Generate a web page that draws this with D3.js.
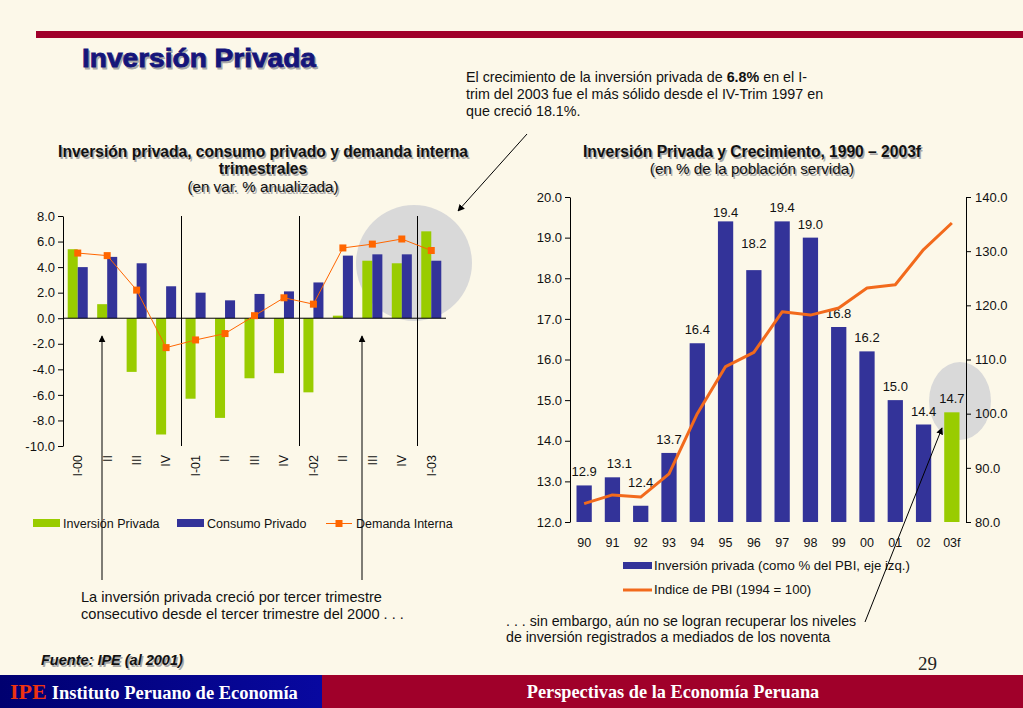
<!DOCTYPE html>
<html>
<head>
<meta charset="utf-8">
<script src="https://cdn.jsdelivr.net/npm/d3@7"></script>
<style>
  body { margin: 0; background: #fcf8e9; }
  text { font-family: "Liberation Sans", Arial, sans-serif; }
</style>
</head>
<body>
<script>
// Slide: Inversión Privada (IPE)

var quarters = ['I-00', 'II', 'III', 'IV', 'I-01', 'II ', 'III ', 'IV ', 'I-02', 'II  ', 'III  ', 'IV  ', 'I-03'];
var invPrivada = [5.4, 1.1, -4.2, -9.1, -6.3, -7.8, -4.7, -4.3, -5.8, 0.2, 4.5, 4.3, 6.8];
var consumoPrivado = [4.0, 4.8, 4.3, 2.5, 2.0, 1.4, 1.9, 2.1, 2.8, 4.9, 5.0, 5.0, 4.5];
var demandaInterna = [5.1, 4.9, 2.2, -2.3, -1.7, -1.2, 0.2, 1.6, 1.1, 5.5, 5.8, 6.2, 5.3];
var leftTicks = [-10, -8, -6, -4, -2, 0, 2, 4, 6, 8];

var years = ['90', '91', '92', '93', '94', '95', '96', '97', '98', '99', '00', '01', '02', '03f'];
var invPBI = [12.9, 13.1, 12.4, 13.7, 16.4, 19.4, 18.2, 19.4, 19.0, 16.8, 16.2, 15.0, 14.4, 14.7];
var indicePBI = [83.4, 85.0, 84.6, 88.9, 100.0, 108.7, 111.3, 118.8, 118.2, 119.5, 123.2, 123.8, 130.3, 135.2];
var rightTicksL = [12, 13, 14, 15, 16, 17, 18, 19, 20];
var rightTicksR = [80, 90, 100, 110, 120, 130, 140];

var GREEN = '#99cc00', BLUE = '#333399', ORANGE = '#ff6600';

var width = 1023, height = 708;
var svg = d3.select('body').append('svg')
    .attr('width', width)
    .attr('height', height);

svg.append('rect').attr('width', width).attr('height', height).attr('fill', '#fcf8e9');

var defs = svg.append('defs');
defs.append('marker')
    .attr('id', 'arrow')
    .attr('viewBox', '0 0 10 10')
    .attr('refX', 9).attr('refY', 5)
    .attr('markerWidth', 7).attr('markerHeight', 7)
    .attr('markerUnits', 'userSpaceOnUse')
    .attr('orient', 'auto')
    .append('path').attr('d', 'M0,0 L10,5 L0,10 z').attr('fill', '#000');

var grad = defs.append('linearGradient').attr('id', 'navy');
grad.append('stop').attr('offset', '0%').attr('stop-color', '#000070');
grad.append('stop').attr('offset', '100%').attr('stop-color', '#0808a0');

// plain hyphen instead of d3's minus sign
var fmt = function (d) { return d3.format('.1f')(d).replace('\u2212', '-'); };

// header
svg.append('rect').attr('x', 36).attr('y', 31).attr('width', width - 36).attr('height', 7).attr('fill', '#a0002a');

function shadowText(x, y, str, size, weight, fill, anchor, style, len) {
    var g = svg.append('g');
    [[1.5, 1.5, '#a8a8a8'], [0, 0, fill]].forEach(function (o) {
        var t = g.append('text')
            .attr('x', x + o[0]).attr('y', y + o[1])
            .attr('text-anchor', anchor || 'start')
            .style('font-size', size + 'px')
            .style('font-weight', weight)
            .style('font-style', style || 'normal')
            .attr('fill', o[2])
            .text(str);
        if (len) t.attr('textLength', len).attr('lengthAdjust', 'spacingAndGlyphs')
            .attr('stroke', o[2]).attr('stroke-width', 0.8);
    });
    return g;
}

shadowText(82, 67, 'Inversión Privada', 25, 'bold', '#15157a', 'start', 'normal', 234);
shadowText(263, 157, 'Inversión privada, consumo privado y demanda interna', 15.6, 'bold', '#111', 'middle');
shadowText(263, 174, 'trimestrales', 15.6, 'bold', '#111', 'middle');
shadowText(263, 192, '(en var. % anualizada)', 15.2, 'normal', '#111', 'middle');
shadowText(752, 157, 'Inversión Privada y Crecimiento, 1990 – 2003f', 15.6, 'bold', '#111', 'middle');
shadowText(752, 174, '(en % de la población servida)', 15.2, 'normal', '#111', 'middle');

var note = svg.append('text').attr('x', 466).attr('y', 82).style('font-size', '14.3px').attr('fill', '#111');
note.append('tspan').text('El crecimiento de la inversión privada de ');
note.append('tspan').style('font-weight', 'bold').text('6.8%');
note.append('tspan').text(' en el I-');
svg.append('text').attr('x', 466).attr('y', 99).style('font-size', '14.3px').attr('fill', '#111')
    .text('trim del 2003 fue el más sólido desde el IV-Trim 1997 en');
svg.append('text').attr('x', 466).attr('y', 116).style('font-size', '14.3px').attr('fill', '#111')
    .text('que creció 18.1%.');

// ---------- left chart ----------
var xL = d3.scaleBand().domain(quarters).range([63, 446]).paddingInner(0.32).paddingOuter(0.16);
var xSub = d3.scaleBand().domain(['inv', 'con']).range([0, xL.bandwidth()]);
var yL = d3.scaleLinear().domain([-10, 8]).range([446, 216]);

svg.append('circle').attr('cx', 414).attr('cy', 263).attr('r', 58).attr('fill', '#d9d9d9');

// separators between years
['I-01', 'I-02', 'I-03'].forEach(function (q) {
    var sx = Math.round(xL(q) - xL.step() * xL.paddingInner() / 2) + 0.5;
    svg.append('line').attr('x1', sx).attr('x2', sx).attr('y1', yL(8)).attr('y2', yL(-10))
        .attr('stroke', '#000').attr('stroke-width', 1);
});

var left = svg.append('g');
left.selectAll('.inv').data(invPrivada).enter().append('rect')
    .attr('x', function (d, i) { return xL(quarters[i]) + xSub('inv'); })
    .attr('y', function (d) { return yL(Math.max(0, d)); })
    .attr('width', xSub.bandwidth())
    .attr('height', function (d) { return Math.abs(yL(d) - yL(0)); })
    .attr('fill', GREEN);
left.selectAll('.con').data(consumoPrivado).enter().append('rect')
    .attr('x', function (d, i) { return xL(quarters[i]) + xSub('con'); })
    .attr('y', function (d) { return yL(Math.max(0, d)); })
    .attr('width', xSub.bandwidth())
    .attr('height', function (d) { return Math.abs(yL(d) - yL(0)); })
    .attr('fill', BLUE);

var yAxisL = svg.append('g').attr('transform', 'translate(63,0)')
    .call(d3.axisLeft(yL).tickValues(leftTicks).tickFormat(fmt).tickSize(5).tickSizeOuter(0));
yAxisL.selectAll('text').style('font-size', '13px').attr('fill', '#111').attr('x', -8);
yAxisL.selectAll('line, path').attr('stroke', '#000');

svg.append('line').attr('x1', 63).attr('x2', 446).attr('y1', yL(0)).attr('y2', yL(0)).attr('stroke', '#000');

var cx = function (i) { return xL(quarters[i]) + xL.bandwidth() / 2; };
var lineL = d3.line().x(function (d, i) { return cx(i); }).y(function (d) { return yL(d); });
svg.append('path').datum(demandaInterna).attr('d', lineL)
    .attr('fill', 'none').attr('stroke', ORANGE).attr('stroke-width', 1);
svg.selectAll('.mk').data(demandaInterna).enter().append('rect')
    .attr('x', function (d, i) { return cx(i) - 3.5; })
    .attr('y', function (d) { return yL(d) - 3.5; })
    .attr('width', 7).attr('height', 7).attr('fill', ORANGE);

svg.selectAll('.ql').data(quarters).enter().append('text')
    .attr('transform', function (d, i) { return 'translate(' + cx(i) + ',455) rotate(-90)'; })
    .attr('text-anchor', 'end').attr('dy', '0.35em')
    .style('font-size', '12.5px').attr('fill', '#111')
    .text(function (d) { return d.trim(); });

// left legend
var legL = svg.append('g').style('font-size', '12.5px');
legL.append('rect').attr('x', 33).attr('y', 519).attr('width', 27).attr('height', 8).attr('fill', GREEN);
legL.append('text').attr('x', 63).attr('y', 528).attr('fill', '#111').text('Inversión Privada');
legL.append('rect').attr('x', 177).attr('y', 519).attr('width', 27).attr('height', 8).attr('fill', BLUE);
legL.append('text').attr('x', 207).attr('y', 528).attr('fill', '#111').text('Consumo Privado');
legL.append('line').attr('x1', 326).attr('x2', 352).attr('y1', 523.5).attr('y2', 523.5).attr('stroke', ORANGE);
legL.append('rect').attr('x', 335.5).attr('y', 520).attr('width', 7).attr('height', 7).attr('fill', ORANGE);
legL.append('text').attr('x', 356).attr('y', 528).attr('fill', '#111').text('Demanda Interna');

// arrows left
[[102, 580, 102, 336], [362, 580, 362, 336], [527, 134, 458, 211]].forEach(function (a) {
    svg.append('line').attr('x1', a[0]).attr('y1', a[1]).attr('x2', a[2]).attr('y2', a[3])
        .attr('stroke', '#000').attr('stroke-width', 1).attr('marker-end', 'url(#arrow)');
});

// ---------- right chart ----------
var xR = d3.scaleBand().domain(years).range([570, 966]).paddingInner(0.46).paddingOuter(0.23);
var yRL = d3.scaleLinear().domain([12, 20]).range([522, 197]);
var yRR = d3.scaleLinear().domain([80, 140]).range([522, 197]);

svg.append('ellipse').attr('cx', 960).attr('cy', 401).attr('rx', 31).attr('ry', 39).attr('fill', '#d9d9d9');

svg.selectAll('.bR').data(invPBI).enter().append('rect')
    .attr('x', function (d, i) { return xR(years[i]); })
    .attr('y', function (d) { return yRL(d); })
    .attr('width', xR.bandwidth())
    .attr('height', function (d) { return yRL(12) - yRL(d); })
    .attr('fill', function (d, i) { return years[i] === '03f' ? GREEN : BLUE; });

// label nudges where the original moved them off the line
var nudge = { '91': [7, 0], '92': [0, -10], '95': [0, 5], '96': [0, -13] };
svg.selectAll('.lbR').data(invPBI).enter().append('text')
    .attr('x', function (d, i) { return xR(years[i]) + xR.bandwidth() / 2 + (nudge[years[i]] || [0, 0])[0]; })
    .attr('y', function (d, i) { return yRL(d) - 9 + (nudge[years[i]] || [0, 0])[1]; })
    .attr('text-anchor', 'middle').style('font-size', '13px').attr('fill', '#111')
    .text(function (d) { return fmt(d); });

var cxR = function (i) { return xR(years[i]) + xR.bandwidth() / 2; };
svg.append('path').datum(indicePBI)
    .attr('d', d3.line().x(function (d, i) { return cxR(i); }).y(function (d) { return yRR(d); }))
    .attr('fill', 'none').attr('stroke', '#f26a1c').attr('stroke-width', 3).attr('stroke-linejoin', 'round');

var axL = svg.append('g').attr('transform', 'translate(570,0)')
    .call(d3.axisLeft(yRL).tickValues(rightTicksL).tickFormat(fmt).tickSize(5).tickSizeOuter(0));
var axR = svg.append('g').attr('transform', 'translate(966,0)')
    .call(d3.axisRight(yRR).tickValues(rightTicksR).tickFormat(fmt).tickSize(5).tickSizeOuter(0));
[axL, axR].forEach(function (ax) {
    ax.selectAll('text').style('font-size', '13px').attr('fill', '#111');
    ax.selectAll('line, path').attr('stroke', '#000');
});
axL.selectAll('text').attr('x', -8);
axR.selectAll('text').attr('x', 9);

svg.selectAll('.yl').data(years).enter().append('text')
    .attr('x', function (d, i) { return cxR(i); }).attr('y', 547)
    .attr('text-anchor', 'middle').style('font-size', '12.5px').attr('fill', '#111')
    .text(function (d) { return d; });

var legR = svg.append('g').style('font-size', '13.2px');
legR.append('rect').attr('x', 623).attr('y', 562).attr('width', 29).attr('height', 7).attr('fill', BLUE);
legR.append('text').attr('x', 654).attr('y', 570).attr('fill', '#111').text('Inversión privada (como % del PBI, eje izq.)');
legR.append('line').attr('x1', 623).attr('x2', 652).attr('y1', 590).attr('y2', 590).attr('stroke', '#f26a1c').attr('stroke-width', 3);
legR.append('text').attr('x', 654).attr('y', 594).attr('fill', '#111').text('Indice de PBI (1994 = 100)');

svg.append('line').attr('x1', 865).attr('y1', 622).attr('x2', 942).attr('y2', 428)
    .attr('stroke', '#000').attr('stroke-width', 1).attr('marker-end', 'url(#arrow)');

// notes
function plain(x, y, str, size) {
    svg.append('text').attr('x', x).attr('y', y).style('font-size', size + 'px').attr('fill', '#111').text(str);
}
plain(81, 602, 'La inversión privada creció por tercer trimestre', 14.6);
plain(81, 619, 'consecutivo desde el tercer trimestre del 2000 . . .', 14.6);
plain(506, 626, '. . . sin embargo, aún no se logran recuperar los niveles', 14.2);
plain(506, 642, 'de inversión registrados a mediados de los noventa', 14.2);

shadowText(41, 665, 'Fuente: IPE (al 2001)', 14.5, 'bold', '#111', 'start', 'italic');
svg.append('text').attr('x', 918).attr('y', 670).style('font-family', '"Liberation Serif", serif')
    .style('font-size', '19px').attr('fill', '#222').text('29');

// footer band
svg.append('rect').attr('x', 0).attr('y', 675).attr('width', width).attr('height', 33).attr('fill', '#a0002a');
svg.append('rect').attr('x', 0).attr('y', 675).attr('width', 322).attr('height', 33).attr('fill', 'url(#navy)');
var ft = svg.append('text').attr('x', 10).attr('y', 699)
    .style('font-family', '"Liberation Serif", serif').style('font-weight', 'bold');
ft.append('tspan').style('font-size', '22px').attr('fill', '#ee3311').text('IPE');
ft.append('tspan').style('font-size', '18.5px').attr('fill', '#fff').attr('dx', 5).text('Instituto Peruano de Economía');
svg.append('text').attr('x', 673).attr('y', 698).attr('text-anchor', 'middle')
    .style('font-family', '"Liberation Serif", serif').style('font-weight', 'bold')
    .style('font-size', '18.3px').attr('fill', '#fff').text('Perspectivas de la Economía Peruana');
</script>
</body>
</html>
